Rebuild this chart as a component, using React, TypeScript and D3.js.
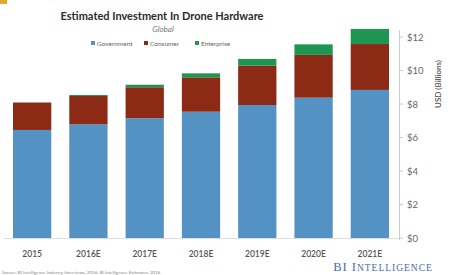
import * as d3 from 'd3'

const years = ['2015', '2016E', '2017E', '2018E', '2019E', '2020E', '2021E']
const government = [6.45, 6.79, 7.15, 7.54, 7.94, 8.38, 8.84]
const consumer = [1.63, 1.69, 1.85, 2.05, 2.35, 2.55, 2.74]
const enterprise = [0.02, 0.06, 0.15, 0.24, 0.4, 0.63, 0.9]
const seriesNames = ['Government', 'Consumer', 'Enterprise']
const seriesColors = ['#5592c4', '#8c2a16', '#1f9552']
const yTicks = [0, 2, 4, 6, 8, 10, 12]

const W = 449
const H = 275

export default function App() {
  const rows = years.map((y, i) => ({
    year: y,
    Government: government[i],
    Consumer: consumer[i],
    Enterprise: enterprise[i],
  }))
  const stacked = d3.stack<any>().keys(seriesNames)(rows)

  const x = d3.scaleBand().domain(years).range([4, 398]).paddingInner(0.32).paddingOuter(0.16)
  const y = d3.scaleLinear().domain([0, 12]).range([238, 37])

  const font = 'Lato, "Open Sans", sans-serif'
  const legendX = [93, 146, 197]

  return (
    <svg width={W} height={H} style={{ position: 'absolute', left: 0, top: 0, background: '#fff' }}>
      <rect x={0} y={0} width={7} height={4} fill="#e0a92a" />
      <text x={162} y={20} textAnchor="middle" fontFamily={font} fontWeight={700} fontSize={11} fill="#2b2b2b">
        Estimated Investment In Drone Hardware
      </text>
      <text x={163} y={32} textAnchor="middle" fontFamily={font} fontStyle="italic" fontSize={8} fill="#777">
        Global
      </text>
      {seriesNames.map((s, i) => (
        <g key={s}>
          <rect x={legendX[i] - 2} y={41} width={4} height={4} fill={seriesColors[i]} />
          <text x={legendX[i] + 4} y={45.5} fontFamily={font} fontSize={6.5} fill="#666">{s}</text>
        </g>
      ))}

      <line x1={4} x2={399} y1={238.5} y2={238.5} stroke="#ddd" strokeWidth={1} />
      {stacked.map((layer, li) => (
        <g key={layer.key} fill={seriesColors[li]}>
          {layer.map((d, i) => (
            <rect
              key={i}
              x={x(years[i])}
              width={x.bandwidth()}
              y={y(d[1])}
              height={Math.max(0, y(d[0]) - y(d[1]))}
            />
          ))}
        </g>
      ))}

      <line x1={399.5} x2={399.5} y1={30} y2={240} stroke="#ccc" strokeWidth={1} />
      {yTicks.map((t) => (
        <g key={t}>
          <line x1={399} x2={403} y1={y(t)} y2={y(t)} stroke="#ccc" />
          <text x={407} y={y(t) + 3.5} fontFamily={font} fontSize={9.5} fill="#666">${t}</text>
        </g>
      ))}
      <text
        transform="translate(441,84) rotate(-90)"
        textAnchor="middle"
        fontFamily={font}
        fontSize={8}
        fontWeight={600}
        fill="#555"
      >
        USD (Billions)
      </text>

      {years.map((yr) => (
        <text
          key={yr}
          x={(x(yr) ?? 0) + x.bandwidth() / 2}
          y={257}
          textAnchor="middle"
          fontFamily={font}
          fontWeight={600}
          fontSize={8.5}
          fill="#555"
        >
          {yr}
        </text>
      ))}

      <text x={2} y={274} fontFamily={font} fontSize={4.5} fill="#888">
        Source: BI Intelligence Industry Interviews, 2016; BI Intelligence Estimates, 2016
      </text>
      <text x={383} y={271} textAnchor="middle" fontFamily='"Liberation Serif", serif' fontSize={12.5} fill="#3f6ea6" letterSpacing={1}>
        BI I<tspan fontSize={9.5}>NTELLIGENCE</tspan>
      </text>
    </svg>
  )
}
